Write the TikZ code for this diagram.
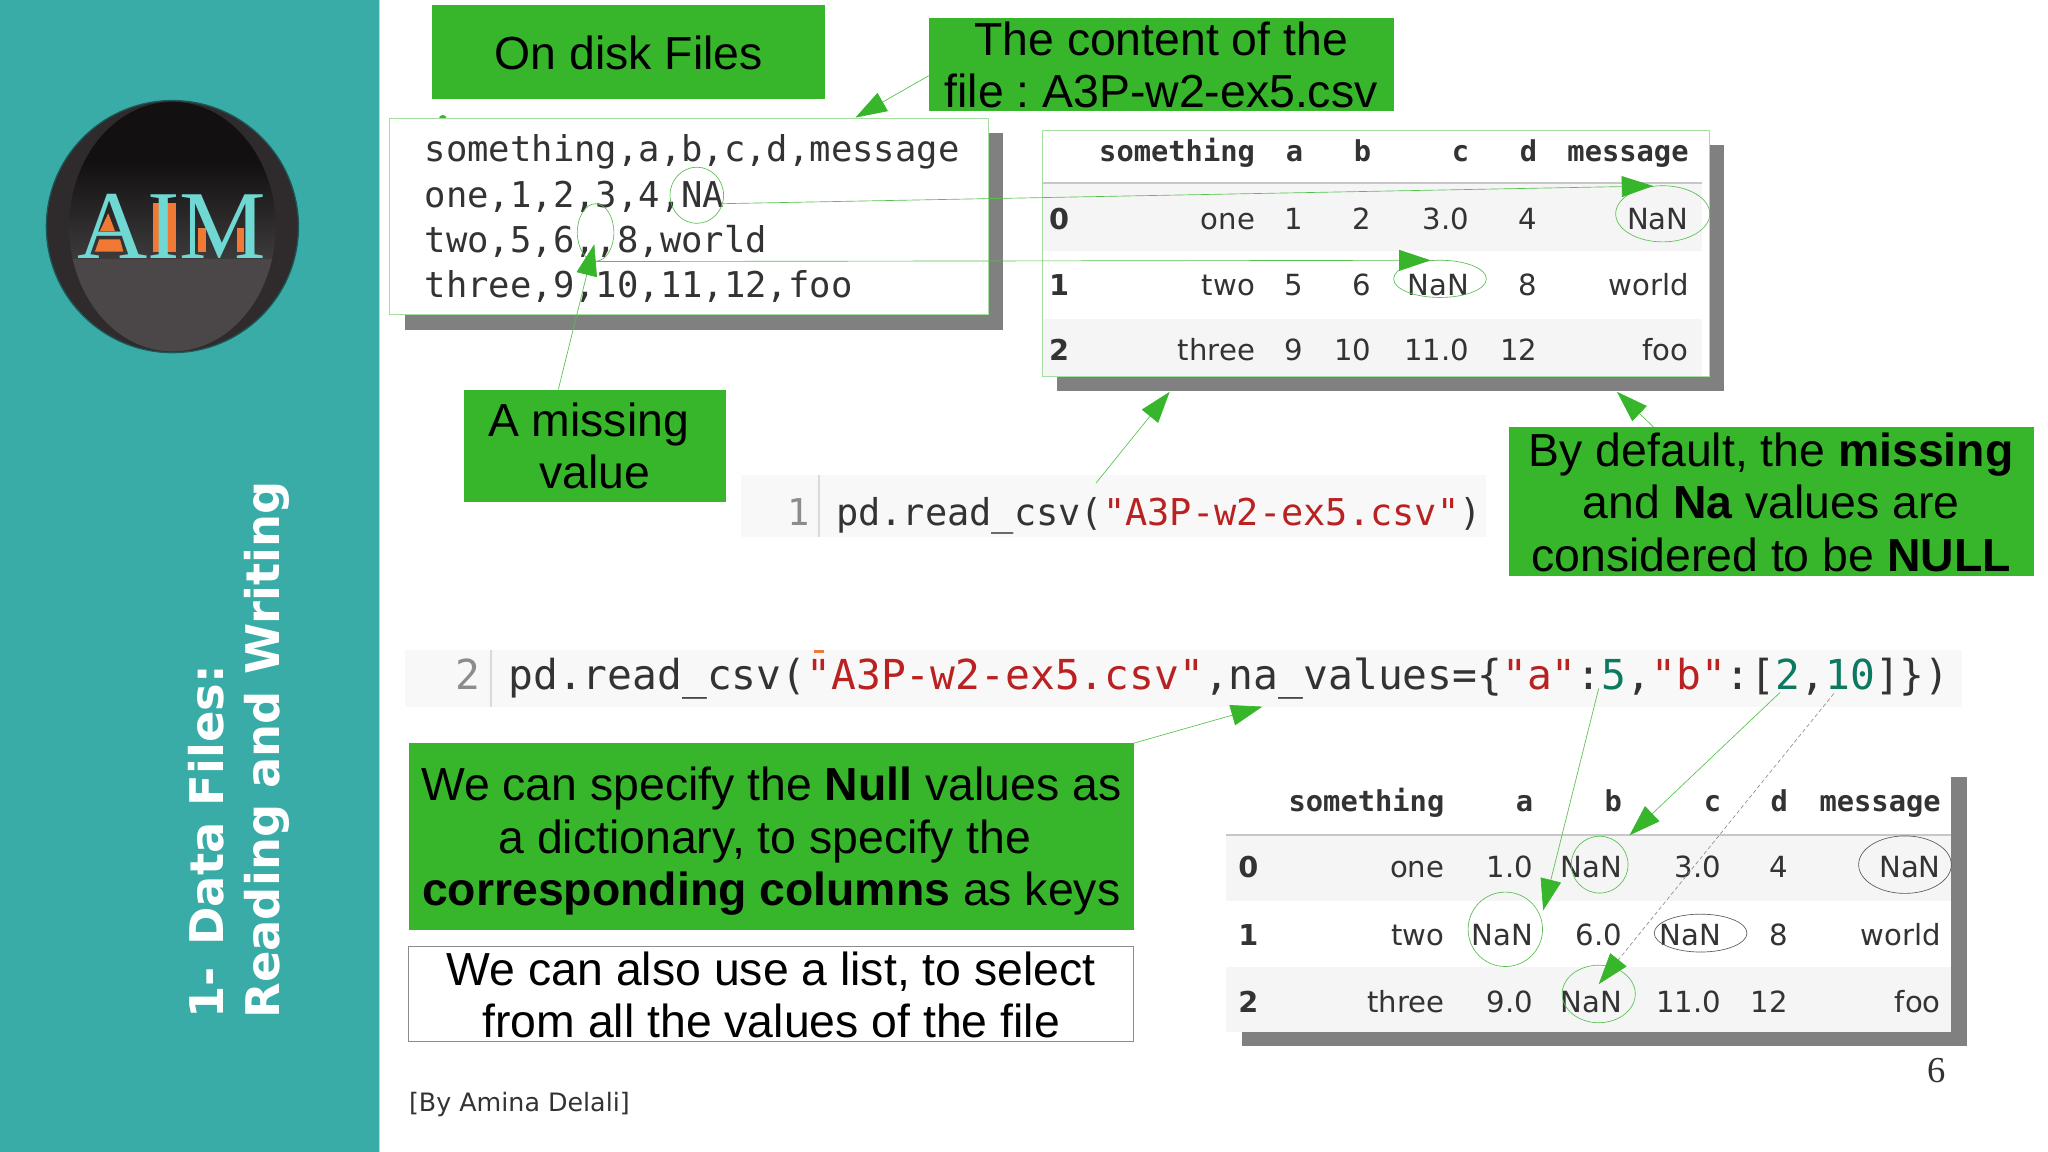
\documentclass[tikz,border=0pt]{standalone}
\usepackage{fontspec}
\usetikzlibrary{arrows.meta,shapes.geometric}
\setmainfont{Liberation Sans}
\newfontfamily\monof{DejaVu Sans Mono}
\newfontfamily\dejaf{DejaVu Sans}
\newfontfamily\serf{Liberation Serif}
\definecolor{gbox}{HTML}{37B52B}
\definecolor{shadowg}{HTML}{808080}
\definecolor{teal1}{HTML}{3AACA8}
\definecolor{linkg}{HTML}{55C04D}
\definecolor{edgeg}{HTML}{A5DFA0}
\definecolor{band}{HTML}{F5F5F5}
\definecolor{codebg}{HTML}{F8F8F8}
\definecolor{codered}{HTML}{BA2121}
\definecolor{codenum}{HTML}{0B7A60}
\definecolor{inkd}{HTML}{333333}
\definecolor{logoring}{HTML}{2F2A2B}
\definecolor{logotop}{HTML}{121011}
\definecolor{logomid}{HTML}{3C3A3B}
\definecolor{logolow}{HTML}{4B4647}
\definecolor{logoor}{HTML}{F07A35}
\definecolor{logotx}{HTML}{6FD8D2}
\tikzset{
  gnode/.style={fill=gbox,inner sep=0pt},
  gtext/.style={inner sep=0pt,align=center,font=\frenchspacing\fontsize{35.5}{40}\selectfont},
  thinring/.style={ellipse,draw=linkg,line width=.5pt,inner sep=0pt},
  grayring/.style={ellipse,draw=black!65,line width=.5pt,inner sep=0pt},
  link/.style={draw=linkg,line width=.5pt,-{Triangle[length=24pt,width=16pt,color=gbox]}},
  dashlink/.style={draw=black!45,line width=.5pt,dash pattern=on 3pt off 2pt,-{Triangle[length=24pt,width=16pt,color=gbox]}},
  hcell/.style={anchor=base east,inner sep=0pt,text=inkd,font=\monof\bfseries\fontsize{22}{26}\selectfont},
  icell/.style={anchor=base west,inner sep=0pt,text=inkd,font=\dejaf\bfseries\fontsize{22}{26}\selectfont},
  bcell/.style={anchor=base east,inner sep=0pt,text=inkd,font=\dejaf\fontsize{22.3}{26}\selectfont},
  csvline/.style={anchor=base west,inner sep=0pt,text=inkd,font=\monof\fontsize{27.2}{32}\selectfont},
}
\begin{document}
\begin{tikzpicture}[x=1pt,y=-1pt]
\useasboundingbox (0,0) rectangle (1568,882);
% sidebar
\fill[teal1] (0,0) rectangle (290,882);
\fill[teal1!40] (290,0) rectangle (291,882);
% logo
\fill[logoring,draw=teal1!50!black,line width=1pt] (132,173.5) circle (96.5);
\begin{scope}
\clip (132,173.5) ellipse (79 and 95.5);
\fill[logotop] (30,77) rectangle (240,124);
\shade[top color=logotop,bottom color=logomid] (30,124) rectangle (240,198);
\fill[logolow] (30,198) rectangle (240,275);
\end{scope}
\fill[logoor] (82.9,163.3) -- (88,176.8) -- (76.5,176.8) -- cycle;
\fill[logoor] (76,183.2) -- (91.9,183.2) -- (94.4,192.6) -- (72.7,192.6) -- cycle;
\fill[logoor] (117.4,155.6) rectangle (134.8,192.6);
\fill[logoor] (151.8,174.8) rectangle (157.7,192.6);
\fill[logoor] (181.2,174.8) rectangle (186.8,192.6);
\node[anchor=base,inner sep=0pt,text=logotx,font=\serf\fontsize{74.5}{80}\selectfont] (logotext) at (131.4,197.7) {AIM};
% sidebar title
\node[rotate=90,anchor=west,inner sep=0pt,align=left,text=white,font=\dejaf\bfseries\fontsize{35.5}{43}\selectfont] (title) at (183,780) {1-\hspace{4pt} Data Files:\\Reading and Writing};
% CSV box
\fill[gbox] (339,91) circle (3);
\fill[shadowg] (310,102) rectangle (768,253);
\node[draw=edgeg,fill=white,line width=.8pt,inner sep=0pt,minimum width=458.5pt,minimum height=150pt] (csvbox) at (527.75,166) {};
\node[csvline] (csv0) at (325,123.5) {something,a,b,c,d,message};
\node[csvline] (csv1) at (325,158.5) {one,1,2,3,4,NA};
\node[csvline] (csv2) at (325,193) {two,5,6,,8,world};
\node[csvline] (csv3) at (325,227.5) {three,9,10,11,12,foo};
\node[thinring,minimum width=41pt,minimum height=43pt] (naE) at (533.5,149.5) {};
\node[thinring,minimum width=28pt,minimum height=44pt] (missE) at (456,178) {};
% table 1
\fill[shadowg] (809,111) rectangle (1320,299);
\node[draw=edgeg,fill=white,line width=.8pt,inner sep=0pt,minimum width=511pt,minimum height=188pt] (tblA) at (1053.5,194) {};
\fill[band] (798.5,141) rectangle (1303,192);
\fill[band] (798.5,244) rectangle (1303,287.5);
\draw[black!22,line width=1.5pt] (798.5,140) -- (1303,140);
\newcommand\tabcell[5]{\node[#1] (#2) at (#3,#4) {#5};}
\foreach \n/\x/\t in {s/961/something,a/998/a,b/1050/b,c/1125/c,d/1177/d,m/1293/message}{
  \tabcell{hcell}{ah\n}{\x}{124}{\t}}
\tabcell{icell}{ai0}{803}{176}{0}
\tabcell{icell}{ai1}{803}{226}{1}
\tabcell{icell}{ai2}{803}{276}{2}
\foreach \n/\x/\p/\q/\r in {s/961/one/two/three,a/998/1/5/9,b/1050/2/6/10,c/1125/3.0/NaN/11.0,d/1177/4/8/12,m/1293/NaN/world/foo}{
  \tabcell{bcell}{ar0\n}{\x}{176}{\p}
  \tabcell{bcell}{ar1\n}{\x}{226}{\q}
  \tabcell{bcell}{ar2\n}{\x}{276}{\r}}
\node[thinring,minimum width=72pt,minimum height=43pt] (nanA) at (1273,163.7) {};
\node[thinring,minimum width=71pt,minimum height=28.5pt] (nanB) at (1102.5,213.5) {};
% code 1
\node[fill=codebg,inner sep=0pt,minimum width=571pt,minimum height=47pt] (codeA) at (852.5,387.5) {};
\draw[black!15,line width=1pt] (627,364) -- (627,411);
\node[anchor=base east,inner sep=0pt,text=black!45,font=\monof\fontsize{28.3}{32}\selectfont] (numA) at (620,402) {1};
\node[anchor=base west,inner sep=0pt,text=inkd,font=\monof\fontsize{28.3}{32}\selectfont] (codeAt) at (640,402) {pd.read\_csv(\textcolor{codered}{"A3P-w2-ex5.csv"})};
% code 2
\node[fill=codebg,inner sep=0pt,minimum width=1192pt,minimum height=43pt] (codeB) at (906,519.5) {};
\draw[black!15,line width=1pt] (376,498) -- (376,541);
\fill[logoor] (623,498) rectangle (631,500);
\node[anchor=base east,inner sep=0pt,text=black!45,font=\monof\fontsize{31.6}{36}\selectfont] (numB) at (368,528) {2};
\node[anchor=base west,inner sep=0pt,text=inkd,font=\monof\fontsize{31.6}{36}\selectfont] (codeBt) at (389,528) {pd.read\_csv(\textcolor{codered}{"A3P-w2-ex5.csv"}{,}na\_values=\{\textcolor{codered}{"a"}:\textcolor{codenum}{5},\textcolor{codered}{"b"}:[\textcolor{codenum}{2},\textcolor{codenum}{10}]\})};
% table 2
\fill[shadowg] (951,595) rectangle (1506,801);
\fill[white] (939,590) rectangle (1494,790);
\fill[band] (939,640) rectangle (1494,690);
\fill[band] (939,740) rectangle (1494,790);
\draw[black!22,line width=1.5pt] (939,639) -- (1494,639);
\foreach \n/\x/\t in {s/1106/something,a/1174/a,b/1242/b,c/1318/c,d/1369/d,m/1486/message}{
  \tabcell{hcell}{bh\n}{\x}{621}{\t}}
\tabcell{icell}{bi0}{948}{672}{0}
\tabcell{icell}{bi1}{948}{724}{1}
\tabcell{icell}{bi2}{948}{775}{2}
\foreach \n/\x/\p/\q/\r in {s/1106/one/two/three,a/1174/1.0/NaN/9.0,b/1242/NaN/6.0/NaN,c/1318/3.0/NaN/11.0,d/1369/4/8/12,m/1486/NaN/world/foo}{
  \tabcell{bcell}{br0\n}{\x}{672}{\p}
  \tabcell{bcell}{br1\n}{\x}{724}{\q}
  \tabcell{bcell}{br2\n}{\x}{775}{\r}}
\node[thinring,minimum width=43.5pt,minimum height=43.5pt] (ringB0) at (1224.7,662) {};
\node[grayring,minimum width=71pt,minimum height=44pt] (ringM0) at (1458.5,662) {};
\node[thinring,minimum width=57pt,minimum height=57pt] (ringA1) at (1152.5,711.5) {};
\node[grayring,minimum width=71pt,minimum height=29pt] (ringC1) at (1302,714.4) {};
\node[thinring,minimum width=56pt,minimum height=44pt] (ringB2) at (1224,761) {};
% green boxes
\node[gnode,minimum width=301pt,minimum height=72pt] (onDisk) at (481.5,40) {};
\node[gtext] (onDiskT) at (481.5,40.5) {On disk Files};
\node[gnode,minimum width=356pt,minimum height=71pt] (content) at (889,49.5) {};
\node[gtext] (contentT) at (889,49.5) {The content of the\\file : A3P-w2-ex5.csv};
\node[gnode,minimum width=200pt,minimum height=86pt] (missBox) at (455.5,341.5) {};
\node[gtext] (missT) at (455.5,341.5) {A missing~\mbox{}\\value};
\node[gnode,minimum width=402pt,minimum height=114pt] (defBox) at (1356,384) {};
\node[gtext] (defT) at (1356,384.5) {By default, the \textbf{missing}\\and \textbf{Na} values are\\considered to be \textbf{NULL}};
\node[gnode,minimum width=555pt,minimum height=143pt] (nullBox) at (590.5,640.5) {};
\node[gtext] (nullT) at (590.5,644) {We can specify the \textbf{Null} values as\\a dictionary, to specify the~\mbox{}\\\textbf{corresponding columns} as keys};
\node[gnode,fill=white,draw=black!45,line width=.7pt,minimum width=555pt,minimum height=72pt] (listBox) at (590.5,761) {};
\node[gtext] (listT) at (590.5,761.5) {We can also use a list, to select\\from all the values of the file};
\node[anchor=base west,inner sep=0pt,text=inkd,font=\dejaf\fontsize{19.4}{23}\selectfont] (credit) at (313,851) {[By Amina Delali]};
\node[anchor=base,inner sep=0pt,text=inkd,font=\serf\fontsize{28}{32}\selectfont] (pageNo) at (1482.5,829) {6};
% connector ends
\coordinate (cA) at (711,58);
\coordinate (cB) at (655,90);
\coordinate (mA) at (427.5,298);
\coordinate (mB) at (455,187);
\coordinate (rA) at (839,370);
\coordinate (rB) at (895.5,300);
\coordinate (dA) at (1266,327);
\coordinate (dB) at (1238,300);
\coordinate (nA) at (868,569);
\coordinate (nB) at (966.5,541);
\coordinate (fiveA) at (1224,527);
\coordinate (fiveB) at (1181.5,697);
\coordinate (twoA) at (1363,530);
\coordinate (twoB) at (1247.6,639.5);
\coordinate (tenA) at (1404,531);
\coordinate (tenB) at (1224,753.5);
% connectors
\draw[link] (cA) -- (cB);
\draw[link] (mA) -- (mB);
\draw[link] (naE.-18) -- (nanA.109);
\draw[link] (missE.south) -- (nanB.117);
\draw[link] (rA) -- (rB);
\draw[link] (dA) -- (dB);
\draw[link] (nA) -- (nB);
\draw[link] (fiveA) -- (fiveB);
\draw[link] (twoA) -- (twoB);
\draw[dashlink] (tenA) -- (tenB);
\end{tikzpicture}
\end{document}
